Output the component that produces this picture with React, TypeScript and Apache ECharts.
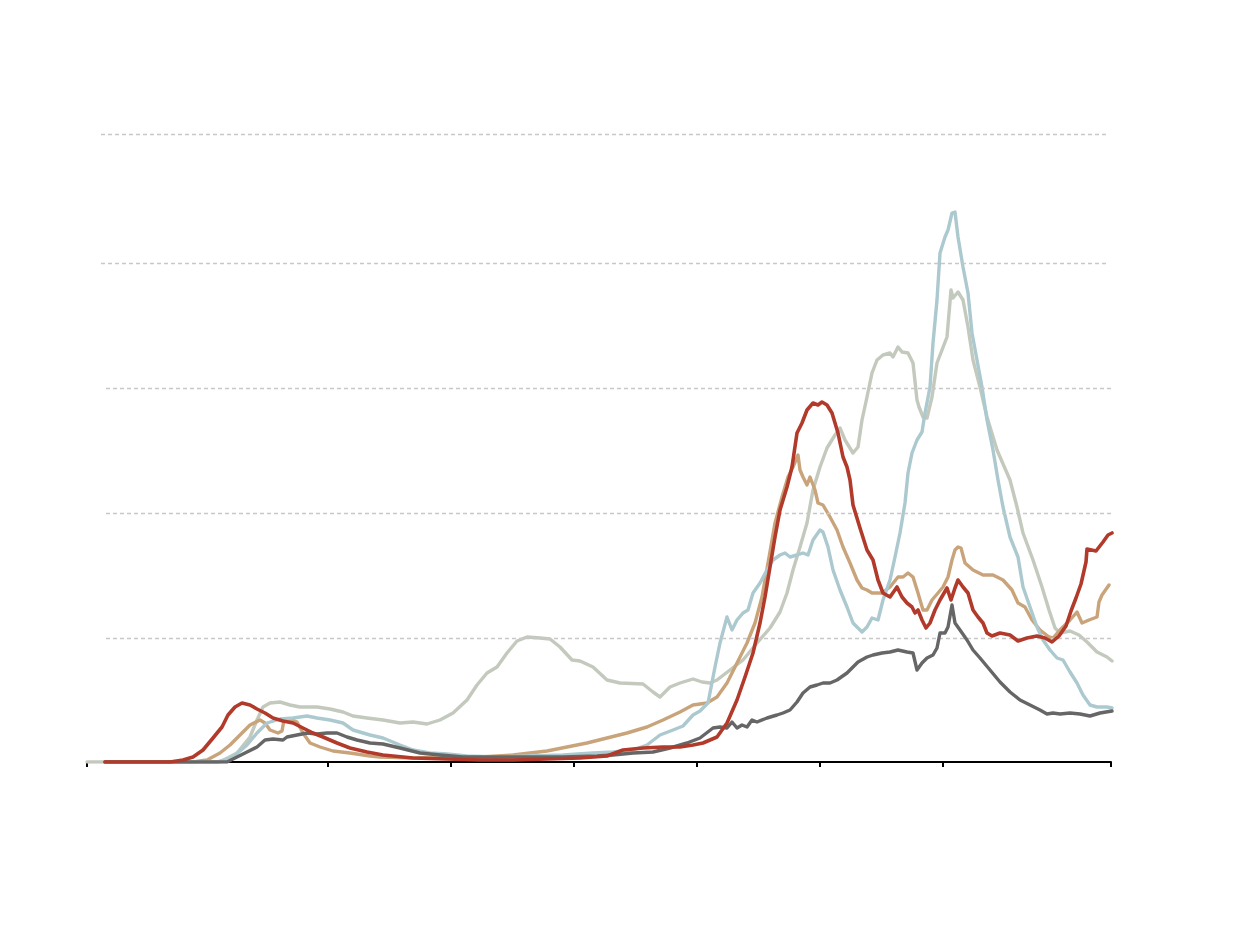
import React, { useEffect, useRef } from "react";
import * as echarts from "echarts";

// x: time index (0 = start of axis, 1024 = end); y: level (gridlines every 25)
const tickPositions = [0, 241, 364, 487, 610, 733, 856, 1024];

const gridLevels = [24.8, 49.8, 74.8, 99.8, 125.6];

const greenSeries: number[][] = [
  [0, 0], [113, 0], [133, 0], [150, 1.8], [163, 5], [170, 8.4], [176, 11], [183, 11.8], [193, 12], [203, 11.4],
  [213, 11], [230, 11], [243, 10.6], [256, 10], [266, 9.2], [280, 8.8], [296, 8.4], [313, 7.8], [326, 8], [340, 7.6],
  [353, 8.4], [366, 9.8], [380, 12.4], [390, 15.4], [400, 17.8], [410, 19], [420, 21.8], [430, 24.2], [440, 25], [453, 24.8],
  [463, 24.6], [473, 23], [485, 20.4], [493, 20.2], [506, 19], [520, 16.4], [533, 15.8], [556, 15.6], [566, 14], [573, 13],
  [583, 15], [593, 15.8], [606, 16.6], [615, 16], [623, 15.8], [630, 16.4], [643, 18.4], [656, 20.4], [670, 23.8], [683, 26.8],
  [693, 30], [700, 33.8], [706, 38.4], [713, 43], [720, 47.8], [726, 54.4], [733, 59], [740, 62.8], [748, 65.4], [753, 66.8],
  [758, 64.4], [766, 61.8], [771, 63], [775, 68.4], [780, 73], [785, 77.8], [790, 80.4], [796, 81.4], [803, 81.8], [806, 81],
  [811, 83], [815, 82], [821, 81.8], [826, 79.8], [830, 72.4], [832, 71], [836, 69], [840, 68.8], [845, 73], [850, 79.8],
  [855, 82.4], [860, 85], [864, 94.4], [866, 92.8], [871, 94], [876, 92.4], [881, 87], [886, 80.4], [893, 75], [900, 69],
  [910, 62.4], [923, 56.4], [930, 51], [936, 45.8], [946, 40.4], [955, 35], [962, 30.4], [968, 26.8], [973, 25.8], [983, 26.2],
  [992, 25.4], [1000, 24], [1010, 22], [1020, 21], [1025, 20.2],
];

const tanSeries: number[][] = [
  [18, 0], [106, 0], [120, 0.4], [133, 1.8], [143, 3.4], [153, 5.4], [163, 7.4], [173, 8.4], [178, 7.8], [183, 6.4],
  [191, 5.8], [195, 6.2], [197, 8.4], [203, 8.6], [210, 8], [216, 5.8], [223, 3.8], [233, 3], [246, 2.2], [263, 1.8],
  [283, 1.2], [293, 1], [326, 0.8], [360, 1], [393, 1], [426, 1.4], [443, 1.8], [460, 2.2], [480, 3], [500, 3.8],
  [520, 4.8], [540, 5.8], [560, 7], [576, 8.4], [593, 10], [606, 11.4], [620, 11.8], [630, 13], [640, 15.8], [650, 19.8],
  [660, 23.8], [668, 27.8], [675, 33], [681, 39.8], [688, 47.8], [695, 53], [701, 57], [706, 59], [711, 61.4], [713, 58.4],
  [716, 57], [720, 55.4], [723, 57], [728, 54.4], [731, 51.8], [736, 51.4], [743, 49], [750, 46.4], [756, 43], [763, 39.8],
  [770, 36.4], [775, 34.8], [780, 34.4], [785, 33.8], [795, 33.8], [803, 35], [811, 37], [816, 37], [821, 37.8], [826, 37],
  [831, 33.8], [836, 30.4], [840, 30.4], [845, 32.4], [851, 33.8], [856, 35], [861, 37], [865, 40.4], [868, 42.4], [871, 43],
  [874, 42.8], [878, 39.8], [886, 38.4], [896, 37.4], [906, 37.4], [916, 36.4], [925, 34.4], [931, 31.8], [938, 31], [945, 28.4],
  [953, 26.4], [962, 25], [966, 24.8], [973, 26.4], [983, 28.4], [990, 30], [995, 27.8], [1002, 28.4], [1010, 29], [1012, 32],
  [1015, 33.4], [1022, 35.4],
];

const blueSeries: number[][] = [
  [18, 0], [130, 0], [146, 1], [160, 3.4], [170, 5.8], [180, 7.8], [193, 8.6], [206, 8.8], [220, 9.2], [230, 8.8],
  [243, 8.4], [256, 7.8], [266, 6.4], [283, 5.4], [296, 4.8], [313, 3.4], [326, 2.4], [343, 1.8], [360, 1.6], [380, 1.2],
  [410, 1], [443, 1.2], [476, 1.4], [506, 1.8], [526, 2], [546, 2.4], [560, 3.4], [573, 5.4], [586, 6.4], [596, 7.2],
  [606, 9.4], [613, 10.2], [621, 11.8], [628, 19], [633, 23.8], [640, 29], [645, 26.4], [650, 28.4], [656, 29.8], [661, 30.4],
  [666, 33.8], [673, 35.8], [680, 38.4], [686, 40.4], [693, 41.4], [698, 41.8], [703, 41], [710, 41.4], [716, 41.8], [721, 41.4],
  [726, 44.4], [733, 46.4], [736, 46], [741, 43], [746, 38.4], [753, 34.4], [760, 31], [766, 27.8], [770, 27], [775, 26],
  [780, 27], [785, 28.8], [791, 28.4], [796, 32.4], [803, 36.4], [808, 41], [813, 45.8], [818, 51.8], [821, 57.8], [825, 61.8],
  [830, 64.4], [835, 66], [838, 69.8], [843, 75], [846, 83.8], [850, 92.4], [853, 101.8], [858, 105], [861, 106.4], [865, 109.8],
  [868, 110], [871, 105], [876, 99], [881, 93.8], [885, 85.8], [890, 80.4], [895, 75], [900, 68.4], [906, 62.4], [911, 56.4],
  [916, 51], [923, 45], [931, 41], [936, 35], [943, 31], [950, 27], [956, 24.4], [963, 22.4], [970, 20.8], [976, 20.4],
  [983, 18], [990, 15.8], [996, 13.4], [1003, 11.4], [1010, 11], [1020, 11], [1025, 10.8],
];

const darkSeries: number[][] = [
  [18, 0], [140, 0], [150, 1], [160, 2], [170, 3], [178, 4.4], [186, 4.6], [196, 4.4], [200, 5], [210, 5.4],
  [220, 5.8], [230, 5.6], [240, 5.8], [250, 5.8], [260, 5], [270, 4.4], [283, 3.8], [296, 3.6], [313, 2.8], [333, 1.8],
  [353, 1.4], [376, 1], [410, 1], [443, 1], [476, 1], [510, 1.2], [526, 1.4], [546, 1.8], [566, 2], [583, 2.8],
  [600, 3.8], [613, 4.8], [626, 6.8], [633, 7], [640, 6.8], [645, 8], [650, 6.8], [655, 7.4], [660, 7], [665, 8.4],
  [670, 8], [680, 8.8], [690, 9.4], [696, 9.8], [703, 10.4], [710, 12], [716, 13.8], [723, 15], [730, 15.4], [736, 15.8],
  [743, 15.8], [750, 16.4], [760, 17.8], [771, 20], [780, 21], [786, 21.4], [795, 21.8], [803, 22], [811, 22.4], [820, 22],
  [826, 21.8], [830, 18.4], [835, 19.8], [840, 20.8], [846, 21.4], [850, 22.8], [853, 25.8], [858, 25.8], [861, 27], [865, 31.4],
  [868, 27.8], [873, 26.4], [880, 24.4], [886, 22.4], [893, 20.8], [903, 18.4], [913, 16], [923, 14], [933, 12.4], [943, 11.4],
  [953, 10.4], [960, 9.6], [966, 9.8], [973, 9.6], [983, 9.8], [993, 9.6], [1003, 9.2], [1013, 9.8], [1025, 10.2],
];

const redSeries: number[][] = [
  [18, 0], [83, 0], [96, 0.4], [106, 1], [116, 2.4], [126, 4.8], [135, 7], [141, 9.4], [148, 11], [155, 11.8],
  [163, 11.4], [170, 10.6], [178, 9.8], [186, 8.8], [196, 8.2], [206, 7.8], [216, 6.8], [226, 5.8], [236, 5], [250, 3.8],
  [263, 2.8], [280, 2], [296, 1.4], [326, 0.8], [360, 0.6], [393, 0.4], [426, 0.4], [460, 0.6], [493, 0.8], [520, 1.2],
  [536, 2.4], [556, 2.8], [576, 3], [593, 3], [606, 3.4], [616, 3.8], [630, 5], [640, 7.8], [650, 12.4], [658, 17],
  [666, 21.8], [673, 27.8], [678, 33], [683, 39], [688, 45], [693, 50.4], [700, 55], [705, 59], [710, 65.8], [715, 67.8],
  [720, 70.4], [726, 71.8], [731, 71.4], [735, 72], [740, 71.4], [745, 69.8], [751, 65.8], [756, 61], [760, 59], [763, 56.4],
  [766, 51.4], [773, 46.8], [780, 42.4], [786, 40.4], [791, 36.4], [796, 33.8], [803, 33], [810, 35], [815, 33], [820, 31.8],
  [825, 31], [828, 29.8], [831, 30.4], [835, 28.4], [839, 26.8], [843, 27.8], [848, 30.4], [853, 32.4], [860, 34.8], [864, 32.4],
  [868, 34.8], [871, 36.4], [876, 35], [881, 33.8], [886, 30.4], [891, 29], [896, 27.8], [900, 25.8], [905, 25.2], [913, 25.8],
  [923, 25.4], [931, 24.2], [940, 24.8], [950, 25.2], [958, 24.8], [965, 24], [972, 25.2], [979, 27.2], [984, 30.2], [989, 32.8],
  [994, 35.6], [999, 40], [1000, 42.6], [1009, 42.2], [1016, 44], [1021, 45.4], [1025, 45.8],
];

const seriesDefs = [
  { name: "green", data: greenSeries, color: "#c3c9bc", width: 3.4 },
  { name: "tan", data: tanSeries, color: "#c9a47b", width: 3.4 },
  { name: "blue", data: blueSeries, color: "#abc9ce", width: 3.4 },
  { name: "dark", data: darkSeries, color: "#666666", width: 3.4 },
  { name: "red", data: redSeries, color: "#b13a2a", width: 3.6 },
];

export default function App() {
  const ref = useRef<HTMLDivElement>(null);
  useEffect(() => {
    document.body.style.margin = "0";
    if (!ref.current) return;
    const chart = echarts.init(ref.current, null, { renderer: "svg" });
    const gridLines = gridLevels.map((v, i) => {
      const x0 = i >= 3 ? 14 : 19;
      const x1 = i >= 3 ? 1020 : 1024;
      return [{ coord: [x0, v] }, { coord: [x1, v] }];
    });
    chart.setOption({
      animation: false,
      backgroundColor: "#ffffff",
      grid: { left: 87, right: 129, top: 112, bottom: 166 },
      xAxis: {
        type: "value",
        min: 0,
        max: 1024,
        axisLine: { show: true, lineStyle: { color: "#000", width: 2 } },
        axisTick: {
          show: true,
          length: 5,
          customValues: tickPositions,
          lineStyle: { color: "#000", width: 2 },
        },
        axisLabel: { show: false },
        splitLine: { show: false },
      },
      yAxis: {
        type: "value",
        min: 0,
        max: 130,
        show: false,
        splitLine: { show: false },
      },
      series: [
        {
          type: "line",
          name: "grid",
          data: [],
          z: 1,
          silent: true,
          markLine: {
            silent: true,
            symbol: ["none", "none"],
            label: { show: false },
            lineStyle: { color: "#c8c8c8", width: 1.4, type: [4, 3] },
            data: gridLines,
          },
        },
        ...seriesDefs.map((s, i) => ({
          type: "line",
          name: s.name,
          data: s.data,
          showSymbol: false,
          symbol: "none",
          z: 2 + i,
          lineStyle: { color: s.color, width: s.width, join: "round", cap: "round" },
          itemStyle: { color: s.color },
        })),
      ],
    });
    return () => chart.dispose();
  }, []);
  return <div ref={ref} style={{ width: 1240, height: 928 }} />;
}
